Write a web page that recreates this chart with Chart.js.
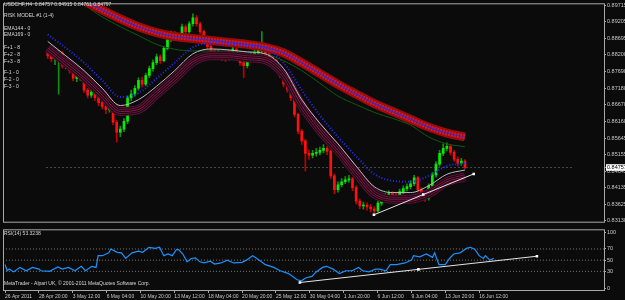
<!DOCTYPE html>
<html>
<head>
<meta charset="utf-8">
<script src="https://cdn.jsdelivr.net/npm/chart.js@4.4.0/dist/chart.umd.min.js"></script>
<style>
  html, body { margin: 0; padding: 0; background: #0b0b0b; }
  #wrap { position: relative; width: 625px; height: 300px; overflow: hidden; background: #0b0b0b; }
  canvas { position: absolute; left: 0; }
  #main { top: 0; }
  #rsi { top: 226px; }
</style>
</head>
<body>
<div id="wrap">
  <canvas id="main" width="625" height="226"></canvas>
  <canvas id="rsi" width="625" height="74"></canvas>
</div>
<script>
// time axis (one step = one H4 bar)
var tickLabels = ['26 Apr 2011', '28 Apr 20:00', '3 May 12:00', '6 May 04:00', '10 May 20:00', '13 May 12:00',
    '18 May 04:00', '20 May 20:00', '25 May 12:00', '30 May 04:00', '1 Jun 20:00', '6 Jun 12:00',
    '9 Jun 04:00', '13 Jun 20:00', '16 Jun 12:00'];
var tickBars = [0, 16, 32, 48, 64, 80, 96, 112, 128, 144, 160, 176, 192, 208, 224];

// price axis
var priceTicks = [0.89715, 0.89205, 0.88695, 0.88200, 0.87690, 0.87180, 0.86670, 0.86160,
    0.85645, 0.85155, 0.84645, 0.84135, 0.83625, 0.83130];
var bidPrice = 0.84757;

// candles, one per 2 bars
var opens = [0.8828,0.8817,0.8808,0.8808,0.8826,0.8787,0.8799,0.8772,0.8748,0.8754,
    0.8757,0.8712,0.8697,0.8706,0.8689,0.8674,0.8662,0.8653,0.8659,0.8614,
    0.8584,0.8593,0.8617,0.8689,0.8700,0.8718,0.8742,0.8730,0.8757,0.8778,
    0.8796,0.8814,0.8802,0.8840,0.8867,0.8885,0.8873,0.8876,0.8906,0.8891,
    0.8915,0.8933,0.8915,0.8891,0.8870,0.8846,0.8832,0.8817,0.8826,0.8811,
    0.8808,0.8826,0.8838,0.8820,0.8796,0.8787,0.8808,0.8820,0.8826,0.8832,
    0.8843,0.8823,0.8811,0.8802,0.8778,0.8757,0.8730,0.8715,0.8689,0.8638,
    0.8587,0.8557,0.8519,0.8513,0.8519,0.8522,0.8528,0.8534,0.8525,0.8450,
    0.8408,0.8423,0.8432,0.8438,0.8441,0.8414,0.8373,0.8358,0.8361,0.8355,
    0.8349,0.8343,0.8367,0.8382,0.8388,0.8396,0.8391,0.8388,0.8402,0.8411,
    0.8417,0.8426,0.8444,0.8408,0.8396,0.8382,0.8420,0.8453,0.8486,0.8519,
    0.8534,0.8540,0.8522,0.8501,0.8489,0.8495];
var closes = [0.8817,0.8808,0.8808,0.8826,0.8787,0.8799,0.8772,0.8748,0.8754,0.8757,
    0.8712,0.8697,0.8706,0.8689,0.8674,0.8662,0.8653,0.8659,0.8614,0.8584,
    0.8593,0.8617,0.8689,0.8700,0.8718,0.8742,0.8730,0.8757,0.8778,0.8796,
    0.8814,0.8802,0.8840,0.8867,0.8885,0.8873,0.8876,0.8906,0.8891,0.8915,
    0.8933,0.8915,0.8891,0.8870,0.8846,0.8832,0.8817,0.8826,0.8811,0.8808,
    0.8826,0.8838,0.8820,0.8796,0.8787,0.8808,0.8820,0.8826,0.8832,0.8843,
    0.8823,0.8811,0.8802,0.8778,0.8757,0.8730,0.8715,0.8689,0.8638,0.8587,
    0.8557,0.8519,0.8513,0.8519,0.8522,0.8528,0.8534,0.8525,0.8450,0.8408,
    0.8423,0.8432,0.8438,0.8441,0.8414,0.8373,0.8358,0.8361,0.8355,0.8349,
    0.8343,0.8367,0.8382,0.8388,0.8396,0.8391,0.8388,0.8402,0.8411,0.8417,
    0.8426,0.8444,0.8408,0.8396,0.8382,0.8420,0.8453,0.8486,0.8519,0.8534,
    0.8540,0.8522,0.8501,0.8489,0.8495,0.8476];
var highs = [0.8836,0.8824,0.8818,0.8834,0.8830,0.8810,0.8804,0.8777,0.8766,0.8768,
    0.8760,0.8718,0.8716,0.8710,0.8694,0.8680,0.8670,0.8668,0.8662,0.8620,
    0.8602,0.8625,0.8695,0.8712,0.8726,0.8750,0.8752,0.8764,0.8786,0.8805,
    0.8822,0.8820,0.8846,0.8874,0.8893,0.8892,0.8886,0.8914,0.8912,0.8922,
    0.8945,0.8940,0.8920,0.8896,0.8874,0.8852,0.8838,0.8834,0.8830,0.8820,
    0.8834,0.8846,0.8842,0.8824,0.8800,0.8815,0.8828,0.8836,0.8840,0.8891,
    0.8848,0.8828,0.8816,0.8806,0.8782,0.8762,0.8736,0.8720,0.8694,0.8642,
    0.8592,0.8562,0.8530,0.8528,0.8534,0.8538,0.8546,0.8540,0.8530,0.8456,
    0.8432,0.8442,0.8448,0.8452,0.8446,0.8420,0.8380,0.8370,0.8368,0.8362,
    0.8356,0.8374,0.8390,0.8396,0.8404,0.8402,0.8398,0.8410,0.8420,0.8426,
    0.8436,0.8452,0.8448,0.8414,0.8402,0.8426,0.8460,0.8494,0.8528,0.8548,
    0.8551,0.8546,0.8528,0.8508,0.8504,0.8500];
var lows = [0.8808,0.8798,0.8790,0.8700,0.8780,0.8778,0.8764,0.8740,0.8738,0.8742,
    0.8705,0.8688,0.8690,0.8680,0.8665,0.8655,0.8640,0.8645,0.8606,0.8554,
    0.8570,0.8585,0.8610,0.8680,0.8694,0.8712,0.8722,0.8725,0.8750,0.8770,
    0.8790,0.8794,0.8798,0.8835,0.8860,0.8864,0.8865,0.8870,0.8882,0.8886,
    0.8908,0.8908,0.8884,0.8862,0.8838,0.8824,0.8808,0.8810,0.8802,0.8800,
    0.8804,0.8820,0.8814,0.8788,0.8750,0.8780,0.8802,0.8814,0.8820,0.8826,
    0.8816,0.8804,0.8795,0.8770,0.8750,0.8722,0.8706,0.8680,0.8630,0.8578,
    0.8546,0.8465,0.8500,0.8505,0.8510,0.8514,0.8520,0.8515,0.8442,0.8396,
    0.8400,0.8416,0.8426,0.8430,0.8405,0.8364,0.8350,0.8348,0.8345,0.8340,
    0.8331,0.8338,0.8360,0.8375,0.8380,0.8384,0.8380,0.8382,0.8396,0.8404,
    0.8410,0.8420,0.8400,0.8388,0.8372,0.8376,0.8414,0.8446,0.8480,0.8512,
    0.8526,0.8514,0.8494,0.8480,0.8482,0.8472];

// indicator lines, one value per 10 bars
var tunnel = [0.9055,0.9016,0.8986,0.8957,0.8930,0.8906,0.8888,0.8876,0.8870,0.8864,0.8858,0.8852,
    0.8843,0.8826,0.8796,0.8763,0.8730,0.8700,0.8671,0.8647,0.8623,0.8599,0.8581,0.8569];
var emaGreen = [0.9025,0.8998,0.8972,0.8936,0.8906,0.8879,0.8852,0.8837,0.8832,0.8832,0.8832,0.8829,
    0.8823,0.8802,0.8772,0.8733,0.8694,0.8668,0.8644,0.8626,0.8605,0.8569,0.8548,0.8539];
var emaGray = [0.8861,0.8817,0.8772,0.8718,0.8665,0.8683,0.8724,0.8772,0.8823,0.8838,0.8835,0.8829,
    0.8823,0.8778,0.8683,0.8611,0.8548,0.8480,0.8417,0.8399,0.8399,0.8420,0.8455,0.8468];
var emaBlue = [0.8882,0.8841,0.8796,0.8742,0.8691,0.8703,0.8748,0.8796,0.8843,0.8855,0.8852,0.8846,
    0.8838,0.8796,0.8712,0.8635,0.8569,0.8510,0.8456,0.8435,0.8432,0.8450,0.8480,0.8489];
var ribbon = [0.8841,0.8796,0.8751,0.8697,0.8647,0.8653,0.8700,0.8748,0.8799,0.8817,0.8817,0.8811,
    0.8805,0.8760,0.8665,0.8590,0.8528,0.8459,0.8396,0.8379,0.8379,0.8396,0.8432,0.8447];

var trendBars = [179.8, 207.0, 234.8];
var trendVals = [0.8331, 0.8393, 0.8456];

// RSI(14)
var rsiBars = [0,1,2,4,7,10,13,16,17,21,25,27,30,33,36,38,41,43,44,46,
    49,50,53,55,57,60,63,65,68,71,73,75,77,79,81,82,84,86,88,90,
    92,94,97,99,102,105,108,112,114,117,119,123,127,130,134,138,140,142,145,147,
    150,152,155,158,161,164,167,169,172,175,177,180,182,185,189,192,193,196,199,202,
    203,205,208,210,212,215,218,220,222,224,226,227,229,231];
var rsiVals = [42,31,34,29,37,31,37,34,31,30,38,34,37,31,39,31,39,37,58,58,
    63,70,64,63,53,63,66,64,73,71,73,58,61,58,69,69,61,47,53,54,
    47,45,48,43,45,50,45,46,50,58,53,42,37,31,26,15,13,18,21,29,
    37,39,34,26,31,31,37,31,29,34,34,31,42,42,45,50,58,56,61,55,
    63,42,42,53,61,63,71,73,69,58,53,58,50,53.32];
var rsiTicks = [0, 30, 50, 70, 100];
var rsiLevels = [30, 50, 70];
var rsiTrendBars = [139.3, 195.3, 251.3];
var rsiTrendVals = [10, 33.5, 57];

var mainTexts = [
    ['USDCHF,H4  0.84757 0.84915 0.84761 0.84797', 4, 5],
    ['RISK MODEL #1 (1-4)', 4, 16],
    ['EMA144 - 0', 4, 29],
    ['EMA169 - 0', 4, 35],
    ['F+1 - 8', 4, 48],
    ['F+2 - 8', 4, 55],
    ['F+3 - 8', 4, 62],
    ['F-1 - 0', 4, 73],
    ['F-2 - 0', 4, 80],
    ['F-3 - 0', 4, 87]
];
var rsiTexts = [
    ['RSI(14) 53.3238', 4, 8],
    ['MetaTrader - Alpari UK, \u00a9 2001-2011 MetaQuotes Software Corp.', 4, 58]
];

var FONT = "'Liberation Sans', Arial, sans-serif";
var AXIS = '#a8a8a8';

function points(xs, ys) {
    return ys.map(function (v, i) { return { x: xs[i], y: v }; });
}
function every10(vals) {
    return vals.map(function (v, i) { return { x: i * 10, y: v }; });
}
function isUp(i) { return closes[i] >= opens[i]; }

var framePlugin = {
    id: 'frame',
    afterDraw: function (chart) {
        var a = chart.chartArea, ctx = chart.ctx;
        ctx.save();
        ctx.strokeStyle = AXIS;
        ctx.lineWidth = 1;
        ctx.strokeRect(a.left - 0.5, a.top - 0.5, a.right - a.left + 1, a.bottom - a.top + 1);
        ctx.restore();
    }
};
var textPlugin = {
    id: 'mtText',
    afterDraw: function (chart, args, opts) {
        var ctx = chart.ctx;
        ctx.save();
        ctx.font = '5px ' + FONT;
        ctx.textBaseline = 'middle';
        ctx.fillStyle = '#d8d8d8';
        opts.lines.forEach(function (l) { ctx.fillText(l[0], l[1], l[2]); });
        ctx.restore();
    }
};

function lineDs(data, color, width, order, dash) {
    return {
        type: 'line', data: data, borderColor: color, borderWidth: width, borderDash: dash || [],
        pointRadius: 0, tension: 0.4, cubicInterpolationMode: 'monotone', order: order, fill: false
    };
}

var wickData = highs.map(function (h, i) { return { x: i * 2, y: [lows[i], h] }; });
var bodyData = opens.map(function (o, i) { return { x: i * 2, y: [o, closes[i]] }; });

// main price window
new Chart(document.getElementById('main'), {
    type: 'bar',
    data: {
        datasets: [
            {
                type: 'line', data: points(trendBars, trendVals), borderColor: '#e6e6e6', borderWidth: 1,
                pointStyle: 'rect', pointRadius: 1.8, pointBackgroundColor: '#ffffff', pointBorderWidth: 0, order: 0
            },
            lineDs(every10(emaGray), '#bdbdbd', 1, 1),
            lineDs(every10(emaBlue), '#2a2aff', 2, 2, [1, 2]),
            lineDs(every10(ribbon), '#8a1c4c', 1, 3),
            lineDs(every10(ribbon), '#1a0610', 3, 4),
            lineDs(every10(ribbon), '#6e1642', 5, 5),
            lineDs(every10(ribbon), '#1a0610', 7, 6),
            lineDs(every10(ribbon), '#5a1236', 9, 7),
            lineDs(every10(tunnel), '#2a2aee', 1.2, 8),
            lineDs(every10(tunnel), '#d81c1c', 5, 9, [2, 1]),
            lineDs(every10(tunnel), '#9a0c0c', 9, 10),
            lineDs(every10(emaGreen), '#0f5a0f', 1, 11),
            {
                data: bodyData, grouped: false, barThickness: 2, minBarLength: 1, order: 12,
                backgroundColor: function (c) { return isUp(c.dataIndex) ? '#00f000' : '#ff1010'; }
            },
            {
                data: wickData, grouped: false, barThickness: 1, order: 13,
                backgroundColor: function (c) { return isUp(c.dataIndex) ? '#109010' : '#c00000'; }
            },
            lineDs(points([-1, 290], [bidPrice, bidPrice]), '#4a4a4a', 1, 14, [2, 2])
        ]
    },
    options: {
        responsive: false,
        animation: false,
        layout: { padding: { left: 2, top: 2, bottom: 1, right: 0 } },
        plugins: { legend: { display: false }, tooltip: { enabled: false }, mtText: { lines: mainTexts } },
        scales: {
            x: { type: 'linear', min: -0.5, max: 283, display: false },
            y: {
                position: 'right', min: 0.83100, max: 0.89745,
                afterFit: function (s) { s.width = 21; },
                afterBuildTicks: function (s) {
                    s.ticks = priceTicks.concat([bidPrice]).map(function (v) { return { value: v }; });
                },
                grid: { drawOnChartArea: false, tickLength: 2, color: AXIS },
                border: { color: AXIS },
                ticks: {
                    autoSkip: false, padding: 1,
                    font: { size: 5.5, family: FONT },
                    color: function (c) { return c.tick && c.tick.value === bidPrice ? '#000000' : '#c8c8c8'; },
                    showLabelBackdrop: true,
                    backdropPadding: { x: 1, y: 0 },
                    backdropColor: function (c) { return c.tick && c.tick.value === bidPrice ? '#ffffff' : 'rgba(0,0,0,0)'; },
                    callback: function (v) { return Number(v).toFixed(5); }
                }
            }
        }
    },
    plugins: [framePlugin, textPlugin]
});

// RSI window
var levelSets = rsiLevels.map(function (lv) {
    return lineDs(points([-1, 290], [lv, lv]), '#7a7a7a', 1, 5, [1, 2]);
});

new Chart(document.getElementById('rsi'), {
    type: 'line',
    data: {
        datasets: [
            {
                data: points(rsiTrendBars, rsiTrendVals), borderColor: '#e6e6e6', borderWidth: 1,
                pointStyle: 'rect', pointRadius: 1.8, pointBackgroundColor: '#ffffff', pointBorderWidth: 0, order: 0
            },
            {
                data: points(rsiBars, rsiVals), borderColor: '#1e90ff', borderWidth: 1.2,
                pointRadius: 0, tension: 0, order: 1
            }
        ].concat(levelSets)
    },
    options: {
        responsive: false,
        animation: false,
        layout: { padding: { left: 2, top: 2, bottom: 0, right: 0 } },
        plugins: { legend: { display: false }, tooltip: { enabled: false }, mtText: { lines: rsiTexts } },
        scales: {
            x: {
                type: 'linear', min: -0.5, max: 283,
                afterFit: function (s) { s.height = 10; },
                afterBuildTicks: function (s) { s.ticks = tickBars.map(function (v) { return { value: v }; }); },
                grid: { drawOnChartArea: false, tickLength: 3, color: AXIS },
                border: { color: AXIS },
                ticks: {
                    autoSkip: false, maxRotation: 0, align: 'start', padding: 1,
                    font: { size: 5, family: FONT }, color: '#c8c8c8',
                    callback: function (v) { return tickLabels[tickBars.indexOf(v)]; }
                }
            },
            y: {
                position: 'right', min: -3.4, max: 103.4,
                afterFit: function (s) { s.width = 21; },
                afterBuildTicks: function (s) { s.ticks = rsiTicks.map(function (v) { return { value: v }; }); },
                grid: { drawOnChartArea: false, tickLength: 2, color: AXIS },
                border: { color: AXIS },
                ticks: { autoSkip: false, padding: 1, font: { size: 5.5, family: FONT }, color: '#c8c8c8' }
            }
        }
    },
    plugins: [framePlugin, textPlugin]
});
</script>
</body>
</html>
